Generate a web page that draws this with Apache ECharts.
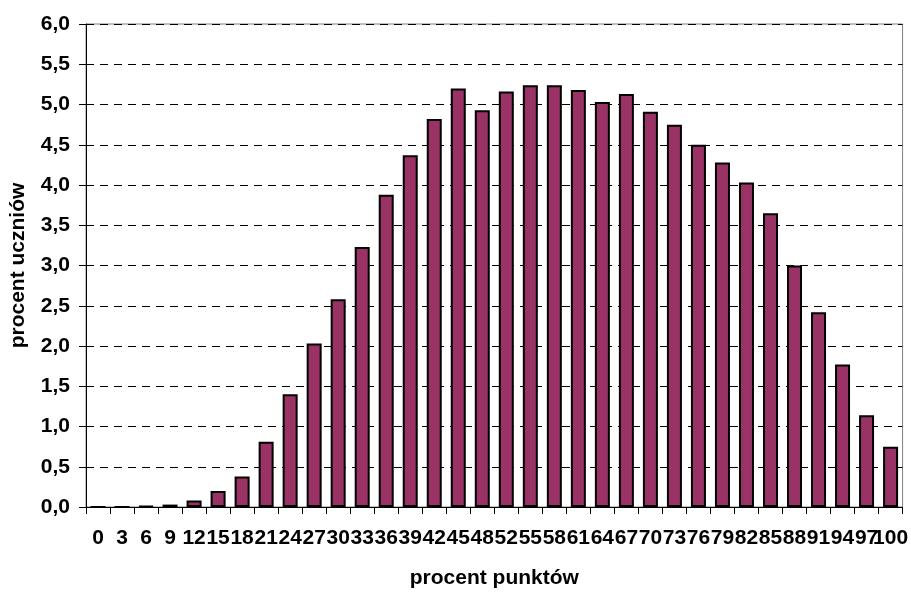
<!DOCTYPE html>
<html>
<head>
<meta charset="utf-8">
<script src="https://cdn.jsdelivr.net/npm/echarts@6/dist/echarts.min.js"></script>
<style>html,body{margin:0;padding:0;background:#fff}#c{width:911px;height:594px}</style>
</head>
<body>
<div id="c"></div>
<script>
const categories = ['0','3','6','9','12','15','18','21','24','27','30','33','36','39','42','45','48','52','55','58','61','64','67','70','73','76','79','82','85','88','91','94','97','100'];
const values = [0,0,0.01,0.03,0.08,0.20,0.38,0.81,1.40,2.03,2.58,3.23,3.88,4.37,4.82,5.20,4.93,5.16,5.24,5.24,5.18,5.03,5.13,4.91,4.75,4.50,4.28,4.03,3.65,3.00,2.42,1.77,1.14,0.75];
const yMin = 0, yMax = 6, yStep = 0.5;
const xTitle = 'procent punktów';
const yTitle = 'procent uczniów';

const chart = echarts.init(document.getElementById('c'), null, {renderer:'canvas'});
const font = 'Liberation Sans, Arial, sans-serif';
chart.setOption({
  animation: false,
  grid: {left: 86, right: 2, top: 24, bottom: 82, show: true, borderColor: '#808080', borderWidth: 1},
  xAxis: {
    type: 'category', data: categories,
    name: xTitle, nameLocation: 'middle', nameGap: 61,
    nameTextStyle: {fontFamily: font, fontWeight: 'bold', fontSize: 21, color: '#000'},
    axisLine: {lineStyle: {color: '#000', width: 1}},
    axisTick: {show: true, length: 7, interval: 0, lineStyle: {color: '#000'}},
    axisLabel: {interval: 0, margin: 21, fontFamily: font, fontWeight: 'bold', fontSize: 21, color: '#000'}
  },
  yAxis: {
    type: 'value', min: yMin, max: yMax, interval: yStep,
    name: yTitle, nameLocation: 'middle', nameGap: 57,
    nameTextStyle: {fontFamily: font, fontWeight: 'bold', fontSize: 21, color: '#000'},
    axisLine: {show: true, lineStyle: {color: '#000', width: 1}},
    axisTick: {show: true, length: 7, lineStyle: {color: '#000'}},
    axisLabel: {margin: 16, fontFamily: font, fontWeight: 'bold', fontSize: 21, color: '#000',
      formatter: v => v.toFixed(1).replace('.', ',')},
    splitLine: {show: true, lineStyle: {color: '#000', width: 1, type: [8, 6]}}
  },
  series: [{
    type: 'bar', data: values, barWidth: 15,
    itemStyle: {color: '#993366', borderColor: '#000', borderWidth: 2}
  }]
});
</script>
</body>
</html>
